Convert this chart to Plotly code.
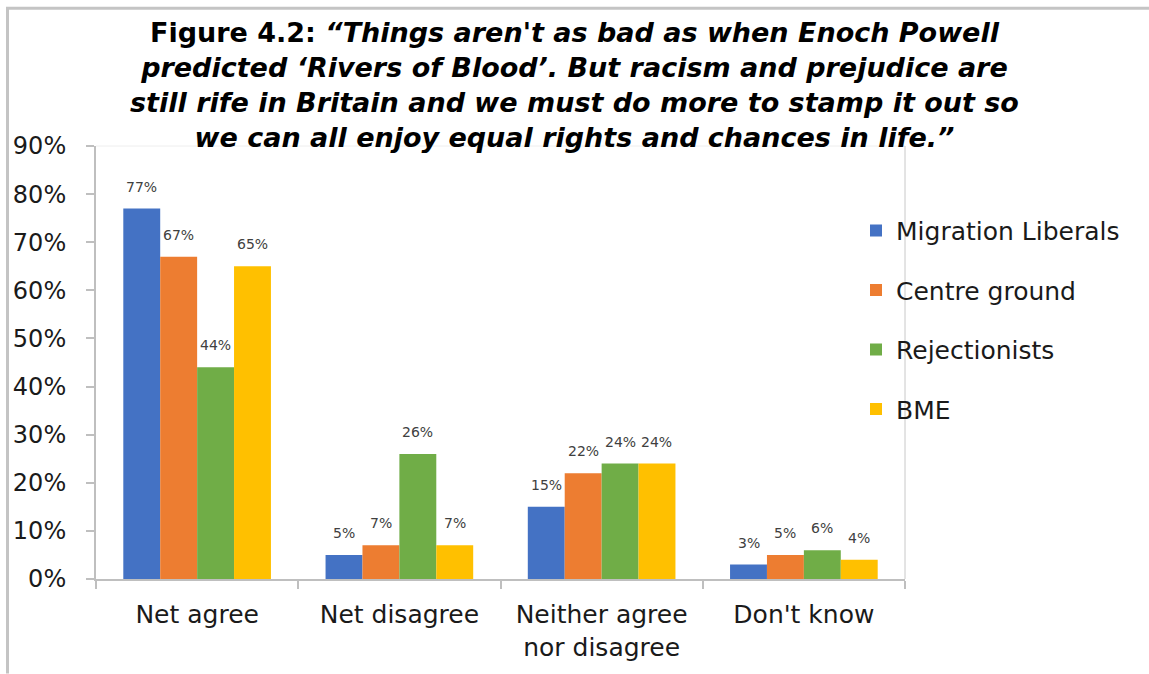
import plotly.graph_objects as go

# Survey responses by segment (percent)
categories = ["Net agree", "Net disagree", "Neither agree<br>nor disagree", "Don't know"]
series_names = ["Migration Liberals", "Centre ground", "Rejectionists", "BME"]
migration_liberals = [77, 5, 15, 3]
centre_ground = [67, 7, 22, 5]
rejectionists = [44, 26, 24, 6]
bme = [65, 7, 24, 4]
y_ticks = [0, 10, 20, 30, 40, 50, 60, 70, 80, 90]

series_values = [migration_liberals, centre_ground, rejectionists, bme]
colors = ["#4472C4", "#ED7D31", "#70AD47", "#FFC000"]

W, H = 1149, 674
ML, MR, MT, MB = 96, 244, 146, 93
plot_w = W - ML - MR
plot_h = H - MT - MB
BARGAP = 0.27
bar_px = plot_w / len(categories) * (1 - BARGAP) / len(series_names)


def px_to_paper_x(px):
    return (px - ML) / plot_w


def px_to_paper_y(py):
    return (H - MB - py) / plot_h


fig = go.Figure()
for i, (name, vals, col) in enumerate(zip(series_names, series_values, colors)):
    fig.add_trace(go.Bar(
        x=categories, y=vals, name=name, marker=dict(color=col, line=dict(width=0)),
        legendgroup=name, hoverinfo="skip",
    ))
    # value labels above each bar
    for cat, v in zip(categories, vals):
        fig.add_annotation(
            x=cat, y=v, xref="x", yref="y", text=f"{v}%", showarrow=False,
            xshift=(i - 1.5) * bar_px, yshift=22, yanchor="middle",
            font=dict(family="DejaVu Sans", size=14, color="#404040"),
        )

title_lines = [
    "<b>Figure 4.2: <i>“Things aren't as bad as when Enoch Powell</i></b>",
    "<b><i>predicted ‘Rivers of Blood’. But racism and prejudice are</i></b>",
    "<b><i>still rife in Britain and we must do more to stamp it out so</i></b>",
    "<b><i>we can all enjoy equal rights and chances in life.”</i></b>",
]
fig.add_annotation(
    x=px_to_paper_x(574), y=px_to_paper_y(14), xref="paper", yref="paper",
    xanchor="center", yanchor="top",
    text="<br>".join(title_lines), showarrow=False, align="center",
    font=dict(family="DejaVu Sans", size=27, color="#000000"),
)

frame = "#c4c4c4"
# outer frame: left and top edges
fig.add_shape(type="line", xref="paper", yref="paper",
              x0=px_to_paper_x(7.5), x1=px_to_paper_x(7.5),
              y0=px_to_paper_y(6.5), y1=px_to_paper_y(H + 2),
              line=dict(color=frame, width=3))
fig.add_shape(type="line", xref="paper", yref="paper",
              x0=px_to_paper_x(6), x1=px_to_paper_x(W + 2),
              y0=px_to_paper_y(7.5), y1=px_to_paper_y(7.5),
              line=dict(color=frame, width=3))
# plot-area border: faint top, light right edge
fig.add_shape(type="line", xref="paper", yref="paper", x0=0, x1=1, y0=1, y1=1,
              line=dict(color="#eeeeee", width=1))
fig.add_shape(type="line", xref="paper", yref="paper", x0=1, x1=1, y0=0, y1=1,
              line=dict(color="#c8c8c8", width=1))

fig.update_layout(
    width=W, height=H,
    margin=dict(l=ML, r=MR, t=MT, b=MB, pad=0),
    paper_bgcolor="white", plot_bgcolor="white",
    barmode="group", bargap=BARGAP, bargroupgap=0,
    font=dict(family="DejaVu Sans", size=22, color="#1a1a1a"),
    showlegend=True,
    legend=dict(
        x=px_to_paper_x(856), y=px_to_paper_y(208), xanchor="left", yanchor="top",
        bgcolor="rgba(0,0,0,0)", borderwidth=0, tracegroupgap=24, itemwidth=30,
        traceorder="grouped", font=dict(family="DejaVu Sans", size=25, color="#1a1a1a"),
    ),
    xaxis=dict(
        type="category", range=[-0.5, len(categories) - 0.5],
        showline=True, linecolor="#bfbfbf", linewidth=2,
        ticks="outside", ticklen=8, tickcolor="#bfbfbf", tickwidth=2,
        tickson="boundaries", ticklabelstandoff=12,
        showgrid=False, zeroline=False,
        tickfont=dict(family="DejaVu Sans", size=25, color="#1a1a1a"),
    ),
    yaxis=dict(
        range=[0, 90], tickvals=y_ticks, ticktext=[f"{t}%" for t in y_ticks],
        showline=True, linecolor="#bfbfbf", linewidth=2,
        ticks="outside", ticklen=8, tickcolor="#bfbfbf", tickwidth=2,
        ticklabelstandoff=15, showgrid=False, zeroline=False,
        tickfont=dict(family="DejaVu Sans", size=24, color="#1a1a1a"),
    ),
)

fig.write_html("out.html")
